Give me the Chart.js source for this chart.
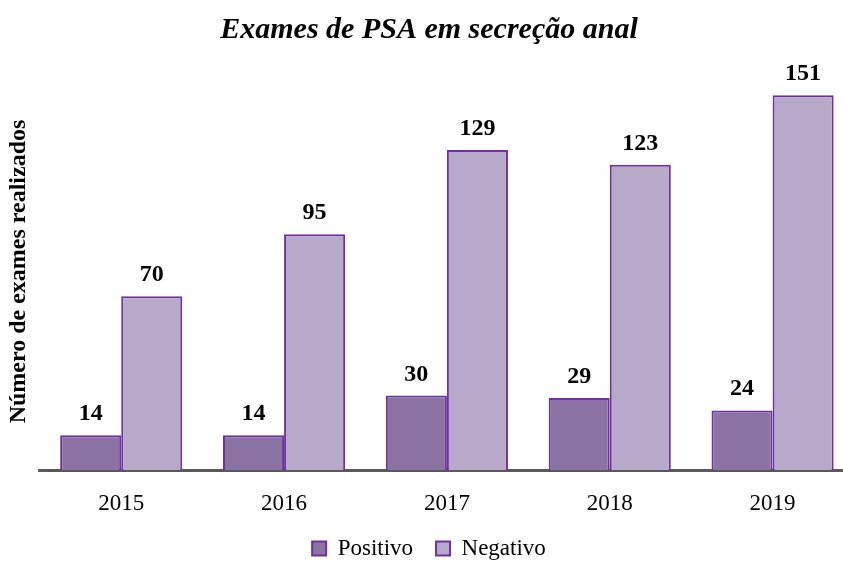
<!DOCTYPE html>
<html>
<head>
<meta charset="utf-8">
<script src="https://cdn.jsdelivr.net/npm/chart.js@4"></script>
<style>
  html, body { margin: 0; padding: 0; background: #fff; overflow: hidden; }
  #wrap { width: 854px; height: 570px; }
</style>
</head>
<body>
<div id="wrap"><canvas id="c"></canvas></div>
<script>
const years = ['2015', '2016', '2017', '2018', '2019'];
const positivo = [14, 14, 30, 29, 24];
const negativo = [70, 95, 129, 123, 151];

const SERIF = '"Liberation Serif", "Times New Roman", serif';

// draws the value above each bar
const valueLabels = {
    id: 'valueLabels',
    afterDatasetsDraw(chart) {
        const ctx = chart.ctx;
        ctx.save();
        ctx.font = 'bold 24px ' + SERIF;
        ctx.fillStyle = '#000';
        ctx.textAlign = 'center';
        ctx.textBaseline = 'alphabetic';
        chart.data.datasets.forEach((ds, i) => {
            chart.getDatasetMeta(i).data.forEach((bar, j) => {
                ctx.fillText(ds.data[j], bar.x, bar.y - 15);
            });
        });
        ctx.restore();
    }
};

new Chart(document.getElementById('c'), {
    type: 'bar',
    data: {
        labels: years,
        datasets: [{
            label: 'Positivo',
            data: positivo,
            backgroundColor: '#8B73A3',
            borderColor: '#7030A0',
            borderWidth: 2
        }, {
            label: 'Negativo',
            data: negativo,
            backgroundColor: '#B6A9C9',
            borderColor: '#7030A0',
            borderWidth: 2
        }]
    },
    options: {
        responsive: true,
        maintainAspectRatio: false,
        animation: false,
        datasets: {
            bar: { categoryPercentage: 0.75, barPercentage: 1.0 }
        },
        layout: { padding: { left: 4, right: 0, top: 0, bottom: 0 } },
        scales: {
            x: {
                grid: { display: false, drawTicks: false },
                border: { display: true, color: '#595959', width: 3 },
                ticks: { color: '#000', font: { family: SERIF, size: 23, lineHeight: 1 }, padding: 22 }
            },
            y: {
                min: 0,
                max: 160,
                grid: { display: false, drawTicks: false },
                border: { display: false },
                ticks: { display: false },
                title: {
                    display: true,
                    text: 'Número de exames realizados',
                    color: '#000',
                    font: { family: SERIF, size: 24, weight: 'bold' },
                    padding: { top: 0, bottom: 7 }
                }
            }
        },
        plugins: {
            title: {
                display: true,
                text: 'Exames de PSA em secreção anal',
                color: '#000',
                font: { family: SERIF, size: 30, weight: 'bold', style: 'italic' },
                padding: { top: 12, bottom: 25 }
            },
            legend: {
                position: 'bottom',
                labels: {
                    color: '#000',
                    font: { family: SERIF, size: 23 },
                    boxWidth: 14,
                    boxHeight: 14,
                    padding: 0,
                    // extra space after the first entry, as in the original legend
                    generateLabels(chart) {
                        const items = Chart.defaults.plugins.legend.labels.generateLabels(chart);
                        items.forEach((it, i) => {
                            if (i < items.length - 1) it.text = it.text + '\u2003';
                        });
                        return items;
                    }
                }
            },
            tooltip: { enabled: false }
        }
    },
    plugins: [valueLabels]
});
</script>
</body>
</html>
